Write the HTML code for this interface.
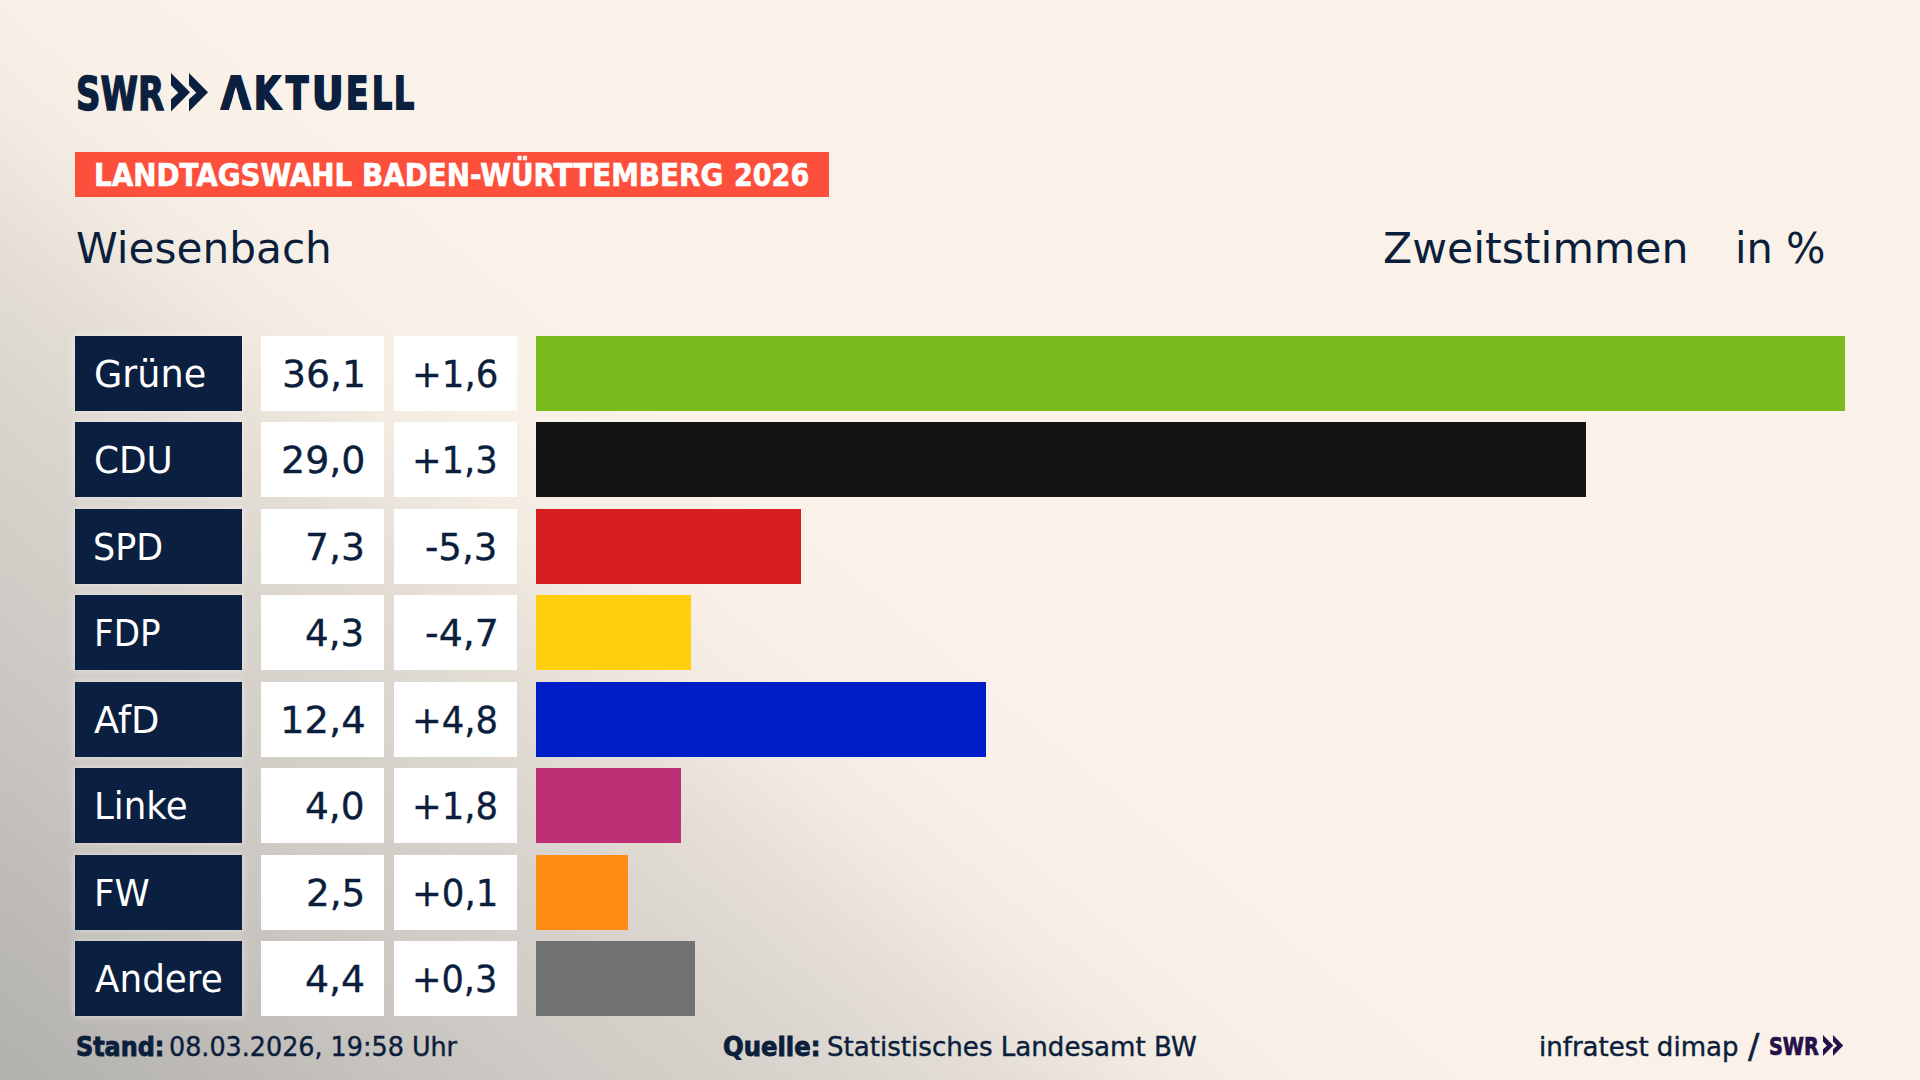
<!DOCTYPE html>
<html lang="de">
<head>
<meta charset="utf-8">
<title>Landtagswahl Baden-Württemberg 2026 – Wiesenbach – Zweitstimmen</title>
<style>
html,body{margin:0;padding:0;}
body{width:1920px;height:1080px;overflow:hidden;position:relative;
  font-family:"DejaVu Sans","Liberation Sans",sans-serif;color:#0b1e3c;background:#faf2e8;}
.bg{position:absolute;left:0;top:0;width:1920px;height:1080px;
  background:linear-gradient(39.6deg, rgba(172,171,169,0.923) 0.00%, rgba(172,171,169,0.782) 7.18%, rgba(172,171,169,0.667) 12.05%, rgba(172,171,169,0.577) 16.91%, rgba(172,171,169,0.487) 21.78%, rgba(172,171,169,0.397) 26.64%, rgba(172,171,169,0.269) 31.50%, rgba(172,171,169,0.103) 36.37%, rgba(172,171,169,0.045) 39.28%, rgba(172,171,169,0.022) 41.23%, rgba(172,171,169,0.000) 45.61%);}
.abs{position:absolute;}
.ln{position:absolute;left:0;margin:0;white-space:pre;line-height:1;font-weight:normal;}
.ln span{display:inline-block;width:0;position:relative;line-height:1;transform-origin:0 0;}
.row{position:absolute;left:0;width:1920px;height:74.7px;}
.row div{position:absolute;top:0;height:74.7px;}
.row span{position:absolute;white-space:nowrap;line-height:1;transform-origin:0 0;}
.lbl{left:75px;width:167px;background:#0b1f40;box-shadow:0 0 8px rgba(255,253,250,.6);}
.lbl span{font-size:37.04px;color:#fff;}
.val{left:261px;width:123.2px;background:#fff;}
.chg{left:394px;width:123.2px;background:#fff;}
.val span,.chg span{font-size:38.1px;color:#0b1e3c;-webkit-text-stroke:0.35px #0b1e3c;}
.bar{left:536px;}
</style>
</head>
<body>
<div class="bg"></div>

<header>
<div class="ln" id="swr" style="top:70.82px;font-size:46.36px;color:#0b1f3f;"><span style="left:76.04px;font-family:'DejaVu Sans Condensed','DejaVu Sans','Liberation Sans',sans-serif;font-weight:bold;-webkit-text-stroke:1.4px #0b1f3f;transform:scaleX(0.8143);">SWR</span></div>
<svg class="abs" id="chev" style="left:171px;top:73.3px" width="37" height="38.5" viewBox="0 0 37 38.5"><polygon points="0,0 19,19.25 0,38.5 0,26.37 7.32,19.64 0,12.13" fill="#0b1f3f"/><polygon points="18,0 37,19.25 18,38.5 18,26.37 25.32,19.64 18,12.13" fill="#0b1f3f"/></svg>
<div class="ln" id="akt" style="top:71.79px;font-size:44.92px;color:#0b1f3f;"><span style="left:221.04px;font-family:'DejaVu Sans Condensed','DejaVu Sans','Liberation Sans',sans-serif;font-weight:bold;-webkit-text-stroke:2px #0b1f3f;transform:scaleX(0.9441);clip-path:polygon(-8px -8px,39.27px -8px,39.27px 43.96px,24.52px 43.96px,15.64px 15.42px,6.76px 43.96px,-8px 43.96px);">A</span><span style="left:254.22px;font-family:'DejaVu Sans Condensed','DejaVu Sans','Liberation Sans',sans-serif;font-weight:bold;-webkit-text-stroke:2px #0b1f3f;transform:scaleX(0.8406);">K</span><span style="left:286.41px;font-family:'DejaVu Sans Condensed','DejaVu Sans','Liberation Sans',sans-serif;font-weight:bold;-webkit-text-stroke:2px #0b1f3f;transform:scaleX(0.8100);">T</span><span style="left:312.18px;font-family:'DejaVu Sans Condensed','DejaVu Sans','Liberation Sans',sans-serif;font-weight:bold;-webkit-text-stroke:2px #0b1f3f;transform:scaleX(0.9621);">U</span><span style="left:346.48px;font-family:'DejaVu Sans Condensed','DejaVu Sans','Liberation Sans',sans-serif;font-weight:bold;-webkit-text-stroke:2px #0b1f3f;transform:scaleX(0.8083);">E</span><span style="left:371.83px;font-family:'DejaVu Sans Condensed','DejaVu Sans','Liberation Sans',sans-serif;font-weight:bold;-webkit-text-stroke:2px #0b1f3f;transform:scaleX(0.7833);">L</span><span style="left:393.73px;font-family:'DejaVu Sans Condensed','DejaVu Sans','Liberation Sans',sans-serif;font-weight:bold;-webkit-text-stroke:2px #0b1f3f;transform:scaleX(0.7833);">L</span></div>
<div class="abs" id="banner" style="left:75px;top:152px;width:753.8px;height:44.5px;background:#fd503c;"></div>
<div class="ln" id="ban" style="top:159.59px;font-size:31.41px;color:#fff;"><span style="left:93.93px;font-family:'DejaVu Sans Condensed','DejaVu Sans','Liberation Sans',sans-serif;font-weight:bold;-webkit-text-stroke:0.6px #fff;transform:scaleX(0.9839);">LANDTAGSWAHL </span><span style="left:362.08px;font-family:'DejaVu Sans Condensed','DejaVu Sans','Liberation Sans',sans-serif;font-weight:bold;-webkit-text-stroke:0.6px #fff;transform:scaleX(0.9842);">BADEN-WÜRTTEMBERG </span><span style="left:733.68px;font-family:'DejaVu Sans Condensed','DejaVu Sans','Liberation Sans',sans-serif;font-weight:bold;-webkit-text-stroke:0.6px #fff;transform:scaleX(0.9559);">2026</span></div>
<div class="ln" id="ort" style="top:227.3px;font-size:42.8px;color:#0b1e3c;"><span style="left:76.01px;transform:scaleX(0.9863);">Wiesenbach</span></div>
<div class="ln" id="zw" style="top:227.3px;font-size:42.8px;color:#0b1e3c;"><span style="left:1383.21px;transform:scaleX(0.9947);">Zweitstimmen</span></div>
<div class="ln" id="inp" style="top:227.3px;font-size:42.8px;color:#0b1e3c;"><span style="left:1735.32px;transform:scaleX(0.9703);">in %</span></div>
</header>
<main>
<div class="row" style="top:336px"><div class="lbl"><span style="left:18.63px;top:19.78px;transform:scaleX(0.9871);">Grüne</span></div><div class="val"><span style="left:21.39px;top:18.95px;transform:scaleX(0.9899);">36,1</span></div><div class="chg"><span style="left:18.23px;top:18.95px;transform:scaleX(0.9343);">+1,6</span></div><div class="bar" style="width:1309px;background:#7aba1e"></div></div>
<div class="row" style="top:422px"><div class="lbl"><span style="left:18.67px;top:19.78px;transform:scaleX(0.9666);">CDU</span></div><div class="val"><span style="left:19.88px;top:18.95px;transform:scaleX(0.9962);">29,0</span></div><div class="chg"><span style="left:18.45px;top:18.95px;transform:scaleX(0.9274);">+1,3</span></div><div class="bar" style="width:1050px;background:#141414"></div></div>
<div class="row" style="top:509px"><div class="lbl"><span style="left:18.11px;top:19.78px;transform:scaleX(0.9426);">SPD</span></div><div class="val"><span style="left:43.71px;top:18.95px;transform:scaleX(0.9878);">7,3</span></div><div class="chg"><span style="left:31.45px;top:18.95px;transform:scaleX(0.9731);">-5,3</span></div><div class="bar" style="width:265px;background:#d71f1f"></div></div>
<div class="row" style="top:595px"><div class="lbl"><span style="left:18.73px;top:19.78px;transform:scaleX(0.9230);">FDP</span></div><div class="val"><span style="left:44.45px;top:18.95px;transform:scaleX(0.9752);">4,3</span></div><div class="chg"><span style="left:31.43px;top:18.95px;transform:scaleX(0.9940);">-4,7</span></div><div class="bar" style="width:155px;background:#ffcf0d"></div></div>
<div class="row" style="top:682px"><div class="lbl"><span style="left:19.25px;top:19.78px;transform:scaleX(0.9956);">AfD</span></div><div class="val"><span style="left:18.88px;top:18.95px;transform:scaleX(1.0106);">12,4</span></div><div class="chg"><span style="left:18.19px;top:18.95px;transform:scaleX(0.9297);">+4,8</span></div><div class="bar" style="width:450px;background:#001ec8"></div></div>
<div class="row" style="top:768px"><div class="lbl"><span style="left:18.61px;top:19.78px;transform:scaleX(0.9623);">Linke</span></div><div class="val"><span style="left:44.44px;top:18.95px;transform:scaleX(0.9839);">4,0</span></div><div class="chg"><span style="left:18.19px;top:18.95px;transform:scaleX(0.9297);">+1,8</span></div><div class="bar" style="width:145px;background:#be3075"></div></div>
<div class="row" style="top:855px"><div class="lbl"><span style="left:18.92px;top:19.78px;transform:scaleX(0.9615);">FW</span></div><div class="val"><span style="left:45.21px;top:18.95px;transform:scaleX(0.9788);">2,5</span></div><div class="chg"><span style="left:18.17px;top:18.95px;transform:scaleX(0.9347);">+0,1</span></div><div class="bar" style="width:92px;background:#ff8c14"></div></div>
<div class="row" style="top:941px"><div class="lbl"><span style="left:19.5px;top:19.78px;transform:scaleX(0.9658);">Andere</span></div><div class="val"><span style="left:44.43px;top:18.95px;transform:scaleX(0.9927);">4,4</span></div><div class="chg"><span style="left:18.22px;top:18.95px;transform:scaleX(0.9239);">+0,3</span></div><div class="bar" style="width:159px;background:#707173"></div></div>
</main>
<footer>
<div class="ln" id="f1" style="top:1034.35px;font-size:26px;color:#0b1e3c;"><span style="left:75.63px;font-size:25.79px;font-family:'DejaVu Sans Condensed','DejaVu Sans','Liberation Sans',sans-serif;font-weight:bold;-webkit-text-stroke:0.8px #0b1e3c;transform:scaleX(1.0280);">Stand: </span><span style="left:169.22px;-webkit-text-stroke:0.4px #0b1e3c;transform:scaleX(0.9771);">08.03.2026, 19:58 Uhr</span></div>
<div class="ln" id="f2" style="top:1034.35px;font-size:26px;color:#0b1e3c;"><span style="left:723.12px;font-size:25.79px;font-family:'DejaVu Sans Condensed','DejaVu Sans','Liberation Sans',sans-serif;font-weight:bold;-webkit-text-stroke:0.8px #0b1e3c;transform:scaleX(1.0489);">Quelle: </span><span style="left:826.7px;-webkit-text-stroke:0.4px #0b1e3c;transform:scaleX(1.0038);">Statistisches Landesamt BW</span></div>
<div class="ln" id="f3" style="top:1033.9px;font-size:26px;color:#0b1e3c;"><span style="left:1538.8px;-webkit-text-stroke:0.4px #0b1e3c;transform:scaleX(1.0017);">infratest dimap </span><span style="left:1747.76px;-webkit-text-stroke:0.4px #0b1e3c;transform-origin:0 22px;transform:translateY(2px) scale(1.3032,1.305);">/ </span><span style="left:1769.15px;font-size:25.1px;font-family:'DejaVu Sans Condensed','DejaVu Sans','Liberation Sans',sans-serif;font-weight:bold;color:#26104b;-webkit-text-stroke:0.7px #26104b;transform-origin:0 21.05px;transform:translateY(-1px) scale(0.8519,1);">SWR</span></div>
<svg class="abs" id="chev2" style="left:1823.1px;top:1034.7px" width="20.3" height="20.9" viewBox="0 0 20.3 20.9"><polygon points="0,0 10.3,10.45 0,20.9 0,14.32 3.97,10.66 0,6.58" fill="#26104b"/><polygon points="10,0 20.3,10.45 10,20.9 10,14.32 13.97,10.66 10,6.58" fill="#26104b"/></svg>
</footer>
</body>
</html>
